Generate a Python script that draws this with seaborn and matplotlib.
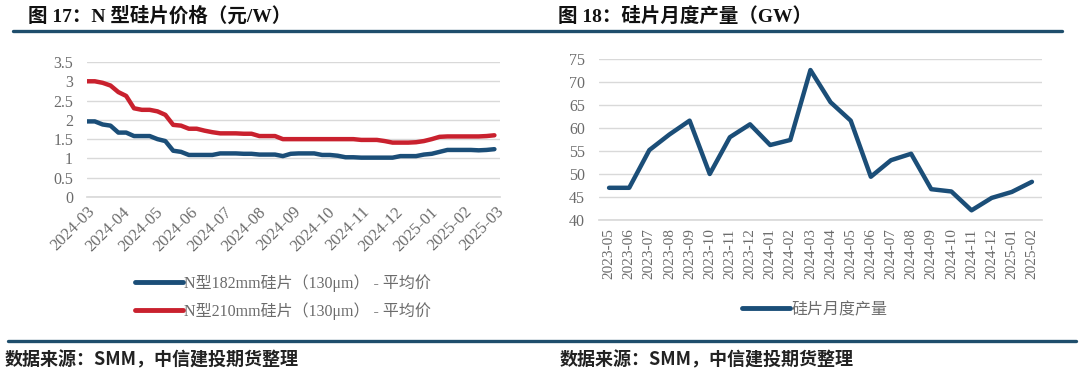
import numpy as np
import pandas as pd
import matplotlib
matplotlib.use("Agg")
import matplotlib.pyplot as plt
import matplotlib.dates as mdates
from matplotlib.lines import Line2D
import seaborn as sns

# ---------------- data ----------------
price_dates = pd.date_range("2024-03-01", periods=53, freq="7D")
price_182 = [1.96, 1.96, 1.88, 1.85, 1.67, 1.67, 1.58, 1.58, 1.58, 1.50,
             1.45, 1.20, 1.17, 1.09, 1.09, 1.09, 1.09, 1.13, 1.13, 1.13,
             1.12, 1.12, 1.10, 1.10, 1.10, 1.06, 1.12, 1.13, 1.13, 1.13,
             1.09, 1.09, 1.07, 1.03, 1.03, 1.02, 1.02, 1.02, 1.02, 1.02,
             1.06, 1.06, 1.06, 1.10, 1.12, 1.17, 1.22, 1.22, 1.22, 1.22,
             1.21, 1.22, 1.24]
price_210 = [3.00, 3.00, 2.96, 2.89, 2.72, 2.62, 2.30, 2.26, 2.26, 2.22,
             2.13, 1.87, 1.85, 1.77, 1.77, 1.72, 1.68, 1.65, 1.65, 1.65,
             1.64, 1.64, 1.58, 1.58, 1.58, 1.50, 1.50, 1.50, 1.50, 1.50,
             1.50, 1.50, 1.50, 1.50, 1.50, 1.48, 1.48, 1.48, 1.45, 1.41,
             1.41, 1.41, 1.42, 1.45, 1.50, 1.56, 1.57, 1.57, 1.57, 1.57,
             1.57, 1.58, 1.60]
label_182 = "N型182mm硅片（130μm） - 平均价"
label_210 = "N型210mm硅片（130μm） - 平均价"

months = ["2023-05", "2023-06", "2023-07", "2023-08", "2023-09", "2023-10",
          "2023-11", "2023-12", "2024-01", "2024-02", "2024-03", "2024-04",
          "2024-05", "2024-06", "2024-07", "2024-08", "2024-09", "2024-10",
          "2024-11", "2024-12", "2025-01", "2025-02"]
output_gw = [47.0, 47.0, 55.2, 58.6, 61.6, 50.0, 58.0, 60.8, 56.3, 57.4,
             72.6, 65.6, 61.6, 49.4, 53.0, 54.4, 46.7, 46.2, 42.1, 44.8,
             46.1, 48.3]
label_out = "硅片月度产量"

title_left = "图 17：N 型硅片价格（元/W）"
title_right = "图 18：硅片月度产量（GW）"
source = "数据来源：SMM，中信建投期货整理"

# ---------------- style ----------------
sns.set_theme(style="white")
plt.rcParams["font.family"] = ["Liberation Serif", "Noto Sans CJK SC", "DejaVu Sans"]

BLUE = "#1b4e78"
RED = "#c9212e"
RULE = "#1f4e6c"
GRID = "#d9d9d9"
TXT = "#6b6b6b"

fig = plt.figure(figsize=(10.8, 3.72), dpi=100)
W, H = 1080, 372

def fx(px):
    return px / W

def fy(py):
    return 1 - py / H

# headers and rules
fig.text(fx(28), fy(16), title_left, fontsize=14, fontweight="bold",
         family=["Liberation Serif", "Noto Sans CJK SC"], color="#111111", va="center")
fig.text(fx(558), fy(16), title_right, fontsize=14, fontweight="bold",
         family=["Liberation Serif", "Noto Sans CJK SC"], color="#111111", va="center")
fig.add_artist(Line2D([fx(13), fx(1062)], [fy(31), fy(31)], color=RULE, lw=2.4))
fig.add_artist(Line2D([fx(8), fx(1076)], [fy(341), fy(341)], color=RULE, lw=2.4))
fig.text(fx(5), fy(360), source, fontsize=13, fontweight="bold", style="italic",
         family=["Noto Sans CJK SC"], color="#222222", va="center")
fig.text(fx(560), fy(360), source, fontsize=13, fontweight="bold", style="italic",
         family=["Noto Sans CJK SC"], color="#222222", va="center")

# ---------------- left chart ----------------
axL = fig.add_axes([fx(87), fy(197), fx(500 - 87), (197 - 62) / H])
dfp = pd.DataFrame({"date": list(price_dates) * 2,
                    "price": price_182 + price_210,
                    "series": [label_182] * len(price_182) + [label_210] * len(price_210)})
sns.lineplot(data=dfp, x="date", y="price", hue="series",
             palette={label_182: BLUE, label_210: RED}, lw=3.2, ax=axL, legend=False)
axL.set_ylim(0, 3.5)
axL.set_yticks(np.arange(0, 3.51, 0.5))
axL.set_yticklabels(["0", "0.5", "1", "1.5", "2", "2.5", "3", "3.5"])
axL.set_xlim(pd.Timestamp("2024-03-01"), pd.Timestamp("2025-03-05"))
axL.xaxis.set_major_locator(mdates.MonthLocator())
axL.xaxis.set_major_formatter(mdates.DateFormatter("%Y-%m"))
for lbl in axL.get_xticklabels():
    lbl.set_rotation(45)
    lbl.set_ha("right")
    lbl.set_rotation_mode("anchor")
axL.grid(axis="y", color=GRID, lw=1)
axL.set_axisbelow(True)
axL.set_xlabel("")
axL.set_ylabel("")
for s in ["top", "right", "left"]:
    axL.spines[s].set_visible(False)
axL.spines["bottom"].set_color(GRID)
axL.tick_params(axis="x", colors=TXT, labelsize=12, length=3, color=GRID, direction="out", pad=2)
axL.tick_params(axis="y", colors=TXT, labelsize=11.5, length=0, pad=10)

handlesL = [Line2D([], [], color=BLUE, lw=3.5), Line2D([], [], color=RED, lw=3.5)]
fig.legend(handlesL, [label_182, label_210], loc="center",
           bbox_to_anchor=(fx(283), fy(297)), frameon=False, ncol=1,
           fontsize=11.5, handlelength=3.0, handletextpad=0.1, labelspacing=0.65,
           labelcolor=TXT)

# ---------------- right chart ----------------
axR = fig.add_axes([fx(599), fy(220), fx(1042 - 599), (220 - 59) / H])
dfo = pd.DataFrame({"month": months, "value": output_gw})
dfo["pos"] = np.arange(len(months))
sns.lineplot(data=dfo, x="pos", y="value", color=BLUE, lw=3.2, ax=axR)
axR.set_xlim(-0.5, len(months) - 0.5)
axR.set_ylim(40, 75)
axR.set_yticks(np.arange(40, 76, 5))
axR.set_xticks(np.arange(len(months)))
axR.set_xticklabels(months, rotation=90)
axR.set_xticks(np.arange(-0.5, len(months), 1.0), minor=True)
axR.grid(axis="y", color=GRID, lw=1)
axR.set_axisbelow(True)
axR.set_xlabel("")
axR.set_ylabel("")
for s in ["top", "right", "left"]:
    axR.spines[s].set_visible(False)
axR.spines["bottom"].set_color(GRID)
axR.tick_params(axis="x", which="major", colors=TXT, labelsize=11, length=0, pad=6)
axR.tick_params(axis="x", which="minor", length=4, color=GRID, direction="out")
axR.tick_params(axis="y", colors=TXT, labelsize=11.5, length=0, pad=10)

fig.legend([Line2D([], [], color=BLUE, lw=3.5)], [label_out], loc="center",
           bbox_to_anchor=(fx(815), fy(310)), frameon=False,
           fontsize=11.5, handlelength=3.0, handletextpad=0.1, labelcolor=TXT)

fig.savefig("out.png", dpi=100, facecolor="white")
